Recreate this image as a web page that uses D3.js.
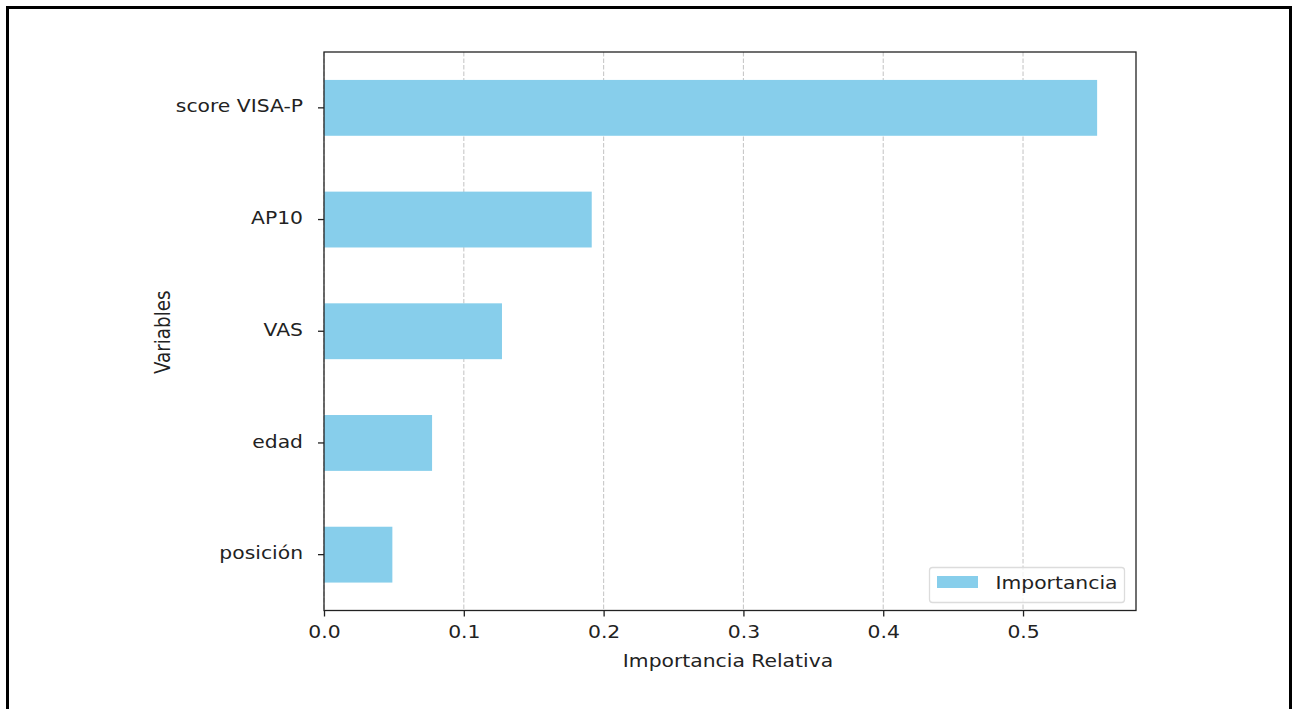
<!doctype html>
<html lang="es">
<head>
    <meta charset="utf-8">
    <title>Importancia Relativa</title>
    <style type="text/css">
        html, body {
            margin: 0;
            padding: 0;
            width: 100%;
            height: 100%;
            background-color: #fff;
            overflow: hidden;
        }
        #chart {
            position: absolute;
            top: 0;
            left: 0;
            font-family: "DejaVu Sans", sans-serif;
        }
    </style>
</head>
<body>
    <svg id="chart" width="1293" height="709"></svg>

    <script src="https://cdn.jsdelivr.net/npm/d3@7"></script>
    <script>
        // data (top to bottom)
        const variables = ["score VISA-P", "AP10", "VAS", "edad", "posición"];
        const importancia = [0.553, 0.1915, 0.1273, 0.0773, 0.0489];
        const xTicks = [0.0, 0.1, 0.2, 0.3, 0.4, 0.5];
        const seriesName = "Importancia";

        const svg = d3.select("#chart");
        const plotLeft = 324, plotRight = 1136, plotTop = 52, plotBottom = 610.5;
        const fontSize = "18.3px";
        const sx = 1.11; // the picture is a little wider than tall

        // text is drawn slightly stretched horizontally, like the reference
        function stretch(sel, x0) {
            sel.attr("x", 0)
               .attr("transform", `translate(${x0},0) scale(${sx},1)`);
        }

        // outer frame (no bottom edge in the picture)
        svg.append("path")
            .attr("d", "M7.5,709 V7.5 H1290.5 V709")
            .attr("fill", "none")
            .attr("stroke", "#000")
            .attr("stroke-width", 3);

        const x = d3.scaleLinear()
            .domain([0, 0.5808])
            .range([plotLeft, plotRight]);

        const y = d3.scaleBand()
            .domain(variables)
            .range([plotTop, plotBottom])
            .paddingInner(0.5)
            .paddingOuter(0.25);

        // grid
        svg.append("g")
            .selectAll("line")
            .data(xTicks)
            .enter().append("line")
            .attr("x1", d => x(d))
            .attr("x2", d => x(d))
            .attr("y1", plotTop)
            .attr("y2", plotBottom)
            .attr("stroke", "#c8c8c8")
            .attr("stroke-width", 1.1)
            .attr("stroke-dasharray", "4.5,2");

        // bars
        svg.append("g")
            .selectAll("rect")
            .data(variables)
            .enter().append("rect")
            .attr("x", x(0))
            .attr("y", d => y(d))
            .attr("width", (d, i) => x(importancia[i]) - x(0))
            .attr("height", y.bandwidth())
            .attr("fill", "#87ceeb");

        // axes
        const xAxis = svg.append("g")
            .attr("transform", `translate(0,${plotBottom})`)
            .call(d3.axisBottom(x).tickValues(xTicks).tickFormat(d3.format(".1f")).tickSize(6));

        const yAxis = svg.append("g")
            .attr("transform", `translate(${plotLeft},0)`)
            .call(d3.axisLeft(y).tickSize(6));

        [xAxis, yAxis].forEach(a => {
            a.select(".domain").remove();
            a.selectAll(".tick line").attr("stroke", "#222").attr("stroke-width", 1.3);
            a.selectAll(".tick text")
                .attr("fill", "#222")
                .style("font-family", "DejaVu Sans")
                .style("font-size", fontSize);
        });

        xAxis.selectAll(".tick text")
            .attr("y", 27.8)
            .attr("dy", 0)
            .call(stretch, 0);

        yAxis.selectAll(".tick text")
            .attr("dy", "0.25em")
            .call(stretch, -21);

        // plot frame
        svg.append("rect")
            .attr("x", plotLeft)
            .attr("y", plotTop)
            .attr("width", plotRight - plotLeft)
            .attr("height", plotBottom - plotTop)
            .attr("fill", "none")
            .attr("stroke", "#222")
            .attr("stroke-width", 1.3);

        // axis titles
        svg.append("text")
            .attr("y", 666.7)
            .attr("text-anchor", "middle")
            .attr("fill", "#222")
            .style("font-size", fontSize)
            .text("Importancia Relativa")
            .call(stretch, (plotLeft + plotRight) / 2 - 2);

        svg.append("text")
            .attr("transform", `translate(169.5,${(plotTop + plotBottom) / 2 + 1}) rotate(-90) scale(1,${sx})`)
            .attr("text-anchor", "middle")
            .attr("fill", "#222")
            .style("font-size", fontSize)
            .text("Variables");

        // legend
        const legend = svg.append("g");
        legend.append("rect")
            .attr("x", 929.5)
            .attr("y", 567.5)
            .attr("width", 195)
            .attr("height", 35)
            .attr("rx", 3)
            .attr("fill", "#fff")
            .attr("fill-opacity", 0.8)
            .attr("stroke", "#dcdcdc")
            .attr("stroke-width", 1.3);
        legend.append("rect")
            .attr("x", 937)
            .attr("y", 576)
            .attr("width", 41)
            .attr("height", 12)
            .attr("fill", "#87ceeb");
        legend.append("text")
            .attr("y", 589)
            .attr("fill", "#222")
            .style("font-size", fontSize)
            .text(seriesName)
            .call(stretch, 995.5);
    </script>
</body>
</html>
